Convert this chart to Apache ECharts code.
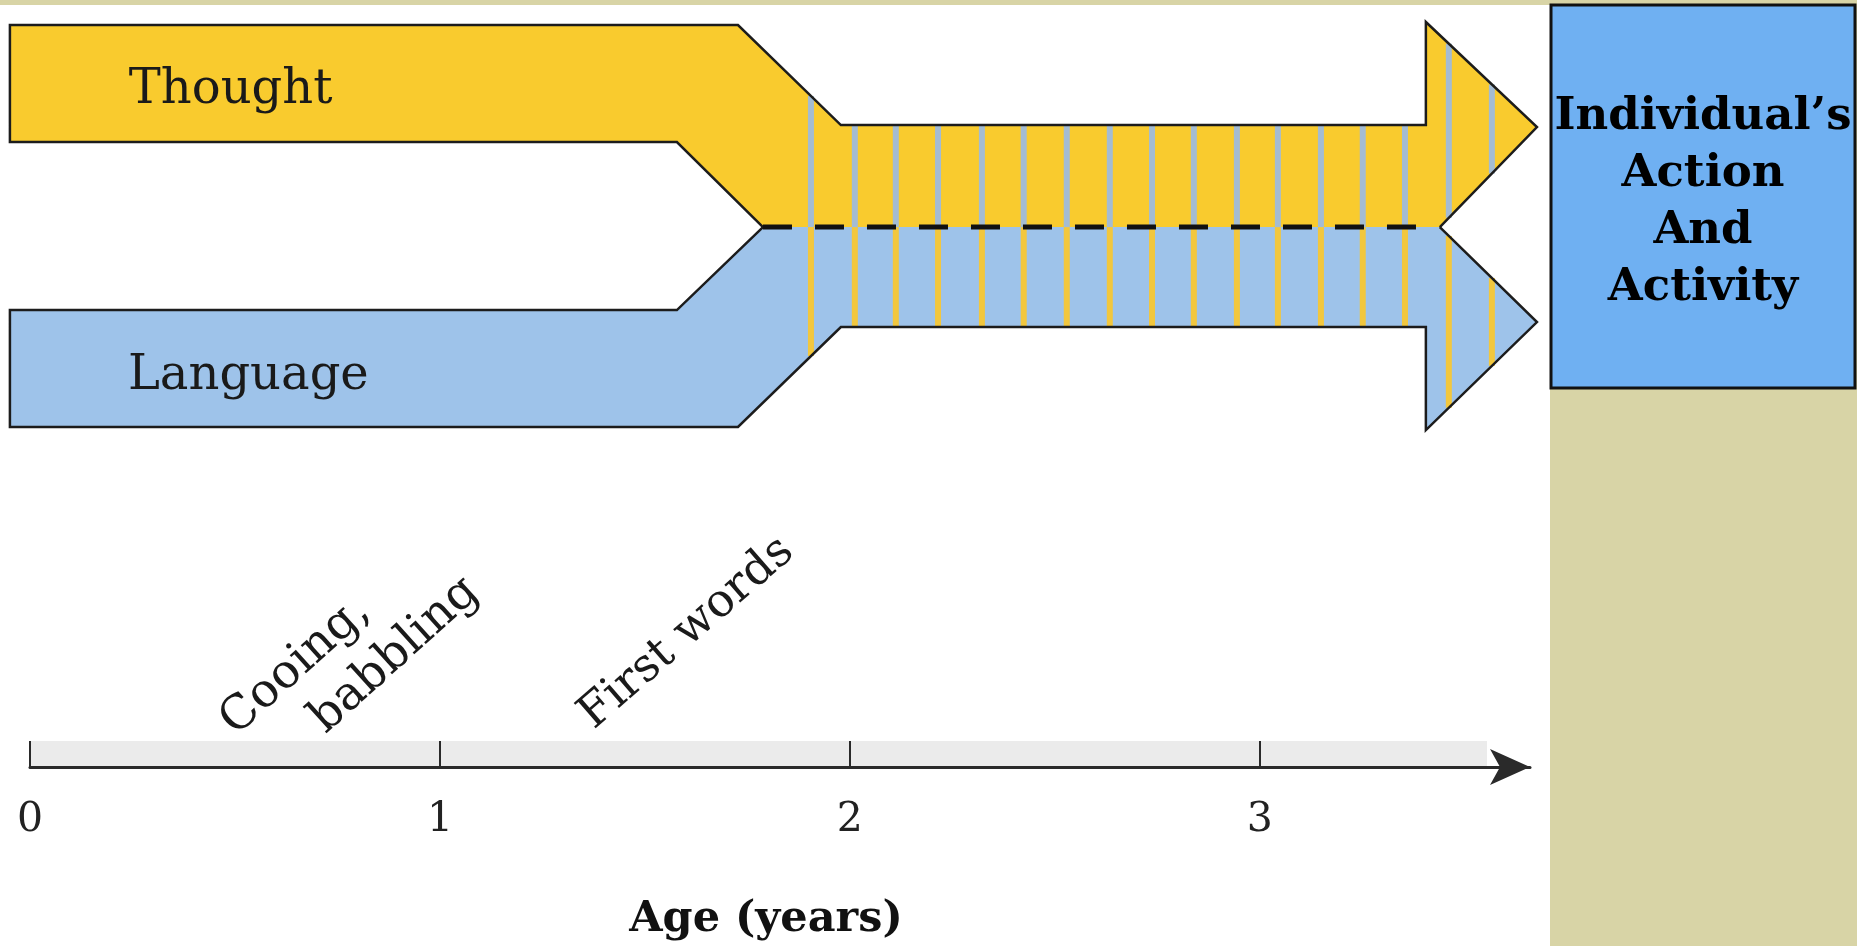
<!DOCTYPE html>
<html>
<head>
<meta charset="utf-8">
<script src="https://cdn.jsdelivr.net/npm/echarts@6.0.0/dist/echarts.min.js"></script>
<style>
html,body{margin:0;padding:0;background:#ffffff;}
#chart{width:1857px;height:946px;}
</style>
</head>
<body>
<div id="chart"></div>
<script>
// ---------------- data (age in years, level in arbitrary diagram units) ----------------
const tickValues = [0, 1, 2, 3];
const axisName = 'Age (years)';

// Thought band outline (open path: the merged edge is the dashed line)
const thoughtOutline = [[1.788, 0], [1.578, 0.843], [-0.049, 0.843], [-0.049, 2.002], [1.727, 2.002],
  [1.978, 1.011], [3.405, 1.011], [3.405, 2.032], [3.676, 0.99], [3.439, 0]];
// Language band outline
const languageOutline = [[1.788, 0], [1.578, -0.822], [-0.049, -0.822], [-0.049, -1.981], [1.727, -1.981],
  [1.978, -0.99], [3.405, -0.99], [3.405, -2.011], [3.676, -0.941], [3.439, 0]];
// Interleaving stripes (ages where the two streams mix)
const stripeAges = [1.905, 2.012, 2.112, 2.215, 2.322, 2.424, 2.529, 2.634, 2.737, 2.839,
  2.944, 3.044, 3.149, 3.251, 3.354, 3.461, 3.566];
// Dashed boundary between the merged streams
const mergeLine = [[1.788, 0], [3.39, 0]];
// Gray band above the age axis
const ageBand = [[0, -5.35], [3.554, -5.093]];

// Text annotations
const annotationTexts = ['Thought', 'Language', 'Cooing,', 'babbling', 'First words'];
const annotationAges = [0.241, 0.239, 0.648, 0.890, 1.602];
const annotationLevels = [1.35, -1.476, -4.352, -4.245, -4.025];

const boxText = ['Individual\u2019s', 'Action', 'And', 'Activity'];

// ---------------- styles ----------------
const C = {
  yellow: '#F9CB2E', blue: '#9EC3EA', yellowStripe: '#F2C73E', blueStripe: '#A4BCD3',
  outline: '#1c1c1c', olive: '#D8D4A6', boxBlue: '#6FB0F2', band: '#EBEBEB', axis: '#2a2a2a'
};
const annotationStyles = [
  { align: 'left', verticalAlign: 'middle', fontSize: 48, rotate: 0 },
  { align: 'left', verticalAlign: 'middle', fontSize: 48, rotate: 0 },
  { align: 'center', verticalAlign: 'middle', fontSize: 47, rotate: 42 },
  { align: 'center', verticalAlign: 'middle', fontSize: 47, rotate: 42 },
  { align: 'center', verticalAlign: 'middle', fontSize: 46, rotate: 41 }
];

function crossings(poly, a) {
  const ys = [];
  const n = poly.length;
  for (let i = 0; i < n; i++) {
    const p = poly[i], q = poly[(i + 1) % n];
    if ((p[0] <= a && q[0] > a) || (q[0] <= a && p[0] > a)) {
      ys.push(p[1] + (a - p[0]) * (q[1] - p[1]) / (q[0] - p[0]));
    }
  }
  ys.sort((m, k) => m - k);
  const segs = [];
  for (let i = 0; i + 1 < ys.length; i += 2) segs.push([ys[i], ys[i + 1]]);
  return segs;
}

function renderDiagram(params, api) {
  const pc = (p) => api.coord(p);
  const children = [];
  children.push({ type: 'polygon', shape: { points: thoughtOutline.map(pc) }, style: { fill: C.yellow } });
  children.push({ type: 'polygon', shape: { points: languageOutline.map(pc) }, style: { fill: C.blue } });
  const stripeW = 6;
  stripeAges.forEach(function (a) {
    [[thoughtOutline, C.blueStripe], [languageOutline, C.yellowStripe]].forEach(function (pair) {
      crossings(pair[0], a).forEach(function (s) {
        const top = pc([a, s[1]]), bot = pc([a, s[0]]);
        children.push({ type: 'rect', shape: { x: top[0] - stripeW / 2, y: top[1], width: stripeW, height: bot[1] - top[1] },
          style: { fill: pair[1] } });
      });
    });
  });
  children.push({ type: 'polyline', shape: { points: thoughtOutline.map(pc) },
    style: { stroke: C.outline, lineWidth: 2.5, fill: null, lineJoin: 'miter' } });
  children.push({ type: 'polyline', shape: { points: languageOutline.map(pc) },
    style: { stroke: C.outline, lineWidth: 2.5, fill: null, lineJoin: 'miter' } });
  const d0 = pc(mergeLine[0]), d1 = pc(mergeLine[1]);
  children.push({ type: 'line', shape: { x1: d0[0], y1: d0[1], x2: d1[0], y2: d1[1] },
    style: { stroke: '#111', lineWidth: 5, lineDash: [29, 23] } });
  return { type: 'group', children: children };
}

function renderBand(params, api) {
  const a = api.coord(ageBand[0]), b = api.coord(ageBand[1]);
  return { type: 'rect', shape: { x: a[0], y: b[1], width: b[0] - a[0], height: a[1] - b[1] }, style: { fill: C.band } };
}

function renderAnnotation(params, api) {
  const i = params.dataIndex;
  const st = annotationStyles[i];
  const p = api.coord([api.value(0), api.value(1)]);
  return {
    type: 'text', x: p[0], y: p[1], rotation: st.rotate * Math.PI / 180,
    style: { text: annotationTexts[i], fontFamily: 'DejaVu Serif', fontSize: st.fontSize, fill: '#1a1a1a',
      align: st.align, verticalAlign: st.verticalAlign }
  };
}

const chart = echarts.init(document.getElementById('chart'), null, { renderer: 'canvas' });
chart.setOption({
  animation: false,
  backgroundColor: '#ffffff',
  grid: { left: 30, right: 327, top: 0, bottom: 179, containLabel: false },
  xAxis: {
    type: 'value', min: 0, max: 3.659, interval: 1, position: 'bottom', z: 5,
    axisLine: { show: true, onZero: false, lineStyle: { color: C.axis, width: 3 }, symbol: ['none', 'arrow'], symbolSize: [27, 40] },
    axisTick: { show: true, inside: true, length: 26, lineStyle: { color: C.axis, width: 2 }, customValues: tickValues },
    axisLabel: { customValues: tickValues, margin: 33, fontFamily: 'DejaVu Serif', fontSize: 41, color: '#222' },
    splitLine: { show: false },
    name: axisName, nameLocation: 'middle', nameGap: 131,
    nameTextStyle: { fontFamily: 'DejaVu Serif', fontWeight: 'bold', fontSize: 43, color: '#111', padding: [0, 28, 0, 0] }
  },
  yAxis: { type: 'value', min: -5.35, max: 2.25, show: false, splitLine: { show: false } },
  graphic: [
    { type: 'rect', z: -10, shape: { x: 1550, y: 0, width: 307, height: 946 }, style: { fill: C.olive } },
    { type: 'rect', z: -10, shape: { x: 0, y: 0, width: 1857, height: 5 }, style: { fill: C.olive } },
    { type: 'rect', z: 10, shape: { x: 1551, y: 5, width: 304, height: 383 }, style: { fill: C.boxBlue, stroke: '#111', lineWidth: 3 } },
    { type: 'text', z: 11, style: { text: boxText.join('\n'), x: 1703, y: 203, align: 'center', verticalAlign: 'middle',
      fontFamily: 'DejaVu Serif', fontWeight: 'bold', fontSize: 45, lineHeight: 57, fill: '#000' } }
  ],
  series: [
    { type: 'custom', z: 1, clip: false, silent: true, data: [[0, 0]], renderItem: renderBand },
    { type: 'custom', z: 2, clip: false, silent: true, data: [[0, 0]], renderItem: renderDiagram },
    {
      type: 'custom', z: 3, clip: false, silent: true,
      data: annotationAges.map(function (a, i) { return [a, annotationLevels[i]]; }),
      renderItem: renderAnnotation
    }
  ]
});
</script>
</body>
</html>
